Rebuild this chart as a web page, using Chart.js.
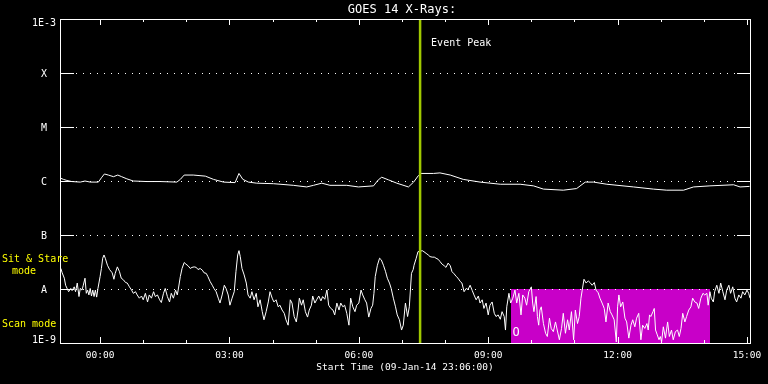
<!DOCTYPE html>
<html><head><meta charset="utf-8">
<script src="https://cdn.jsdelivr.net/npm/chart.js@4/dist/chart.umd.min.js"></script>
<style>html,body{margin:0;padding:0;background:#000;overflow:hidden}#wrap{width:768px;height:384px;position:relative}</style>
</head><body><div id="wrap"><canvas id="c" width="768" height="384"></canvas></div>
<script>
const chartTitle = 'GOES 14 X-Rays:';
const xAxisTitle = 'Start Time (09-Jan-14 23:06:00)';
const hourTicks = [0,1,2,3,4,5,6,7,8,9,10,11,12,13,14,15];
const hourTickLabels = ['00:00','','','03:00','','','06:00','','','09:00','','','12:00','','','15:00'];
const fluxTicks = [1e-9,1e-8,1e-7,1e-6,1e-5,1e-4,1e-3];
const fluxTickLabels = ['1E-9','A','B','C','M','X','1E-3'];
const eventPeakHour = 7.42;
const eventPeakLabel = 'Event Peak';
const scanModeInterval = [9.53, 14.14];
const scanModeFlux = [1e-9, 1e-8];
const modeLabels = ['Sit & Stare', 'mode', 'Scan mode'];

// GOES long channel (1-8 A), hours from 00:00, log10 flux
const longTime = [-0.91,-0.85,-0.77,-0.66,-0.46,-0.35,-0.23,-0.04,0.04,0.10,0.19,0.31,0.41,0.50,0.62,0.77,1.08,1.39,1.78,1.86,1.95,2.16,2.44,2.63,2.86,3.13,3.22,3.31,3.44,3.63,4.02,4.48,4.79,4.95,5.14,5.33,5.72,5.99,6.34,6.45,6.53,6.69,6.88,7.15,7.27,7.38,7.44,7.73,7.88,8.12,8.42,8.81,9.28,9.74,10.05,10.28,10.74,11.05,11.25,11.44,11.75,12.37,12.83,13.14,13.53,13.76,14.14,14.69,14.84,15.06];
const longLogFlux = [-5.95,-5.97,-5.99,-6.01,-6.02,-6.00,-6.02,-6.02,-5.93,-5.87,-5.89,-5.92,-5.89,-5.92,-5.96,-6.00,-6.01,-6.01,-6.02,-5.97,-5.89,-5.89,-5.91,-5.97,-6.02,-6.03,-5.86,-5.97,-6.02,-6.04,-6.05,-6.08,-6.11,-6.08,-6.04,-6.08,-6.08,-6.11,-6.09,-5.98,-5.93,-5.98,-6.04,-6.11,-6.02,-5.90,-5.86,-5.86,-5.85,-5.89,-5.97,-6.02,-6.06,-6.06,-6.09,-6.15,-6.17,-6.14,-6.02,-6.02,-6.06,-6.11,-6.15,-6.17,-6.17,-6.11,-6.09,-6.07,-6.11,-6.10];

// GOES short channel (0.5-4 A), hours from 00:00, log10 flux
const shortTime = [-0.91,-0.88,-0.83,-0.80,-0.76,-0.73,-0.68,-0.65,-0.60,-0.57,-0.53,-0.49,-0.46,-0.42,-0.39,-0.35,-0.32,-0.29,-0.26,-0.23,-0.20,-0.17,-0.14,-0.11,-0.08,-0.05,
0.00,0.03,0.06,0.09,0.12,0.17,0.22,0.28,0.32,0.35,0.40,0.45,0.49,0.54,0.59,0.63,0.68,0.73,0.77,0.82,0.86,0.91,0.96,
1.00,1.05,1.10,1.14,1.19,1.24,1.28,1.33,1.38,1.42,1.47,1.51,1.56,1.61,1.65,1.70,1.75,1.79,1.81,1.86,1.90,1.95,1.99,
2.04,2.09,2.13,2.18,2.23,2.27,2.32,2.37,2.41,2.46,2.50,2.55,2.60,2.64,2.69,2.74,2.78,2.83,2.88,2.92,2.97,
3.01,3.06,3.11,3.15,3.19,3.22,3.25,3.29,3.34,3.39,3.43,3.48,3.52,3.57,3.62,3.66,3.71,3.76,3.80,3.85,3.90,3.94,3.99,
4.03,4.08,4.13,4.17,4.22,4.27,4.31,4.36,4.41,4.45,4.50,4.55,4.59,4.62,4.67,4.71,4.76,4.81,4.85,4.90,4.93,4.98,
5.02,5.07,5.12,5.16,5.21,5.26,5.30,5.35,5.40,5.44,5.49,5.54,5.58,5.63,5.67,5.72,5.77,5.81,5.86,5.91,5.95,
6.00,6.05,6.09,6.14,6.18,6.23,6.28,6.32,6.35,6.38,6.43,6.48,6.52,6.57,6.62,6.66,6.71,6.75,6.80,6.85,6.89,6.94,6.99,
7.03,7.08,7.13,7.17,7.22,7.26,7.28,7.33,7.37,7.47,7.51,7.56,7.61,7.65,7.70,7.75,7.79,7.84,7.88,7.93,7.98,
8.02,8.07,8.12,8.16,8.21,8.26,8.30,8.35,8.39,8.44,8.49,8.53,8.58,8.63,8.67,8.72,8.77,8.81,8.86,8.90,8.95,
9.00,9.04,9.09,9.14,9.18,9.23,9.28,9.32,9.37,9.40,9.43,9.48,9.52,9.57,9.62,9.66,9.71,9.76,9.80,9.85,9.89,9.94,
10.00,10.03,10.06,10.11,10.14,10.17,10.20,10.23,10.28,10.33,10.37,10.42,10.46,10.51,10.56,10.60,10.65,10.70,10.74,10.79,10.84,10.88,10.93,10.98,
11.02,11.07,11.11,11.15,11.18,11.22,11.27,11.32,11.36,11.41,11.46,11.50,11.55,11.59,11.64,11.69,11.73,11.78,11.83,11.87,11.92,11.97,
12.00,12.03,12.07,12.12,12.17,12.21,12.26,12.31,12.35,12.40,12.44,12.49,12.54,12.58,12.63,12.68,12.71,12.74,12.77,12.82,12.85,12.88,12.92,12.96,12.99,
13.02,13.06,13.11,13.16,13.20,13.25,13.29,13.34,13.39,13.43,13.47,13.51,13.56,13.60,13.65,13.70,13.74,13.79,13.84,13.88,13.93,13.98,
14.02,14.07,14.10,14.14,14.17,14.22,14.25,14.30,14.35,14.39,14.44,14.49,14.53,14.58,14.62,14.67,14.72,14.76,14.81,14.86,14.90,14.95,
15.00,15.04,15.07];
const shortLogFlux = [-7.62,-7.70,-7.80,-7.93,-8.00,-8.05,-7.99,-8.03,-7.96,-8.05,-7.89,-8.14,-7.99,-8.02,-7.93,-7.80,-8.08,-8.02,-8.11,-7.99,-8.13,-8.02,-8.14,-8.02,-8.15,-7.99,
-7.77,-7.62,-7.43,-7.37,-7.43,-7.56,-7.64,-7.70,-7.82,-7.71,-7.59,-7.68,-7.80,-7.83,-7.88,-7.89,-7.96,-8.02,-8.08,-8.05,-8.11,-8.17,-8.13,
-8.20,-8.08,-8.24,-8.11,-8.17,-8.05,-8.14,-8.11,-8.20,-8.25,-8.08,-7.99,-8.14,-8.24,-8.08,-8.17,-8.02,-8.11,-8.02,-7.77,-7.62,-7.51,-7.54,
-7.57,-7.62,-7.60,-7.59,-7.60,-7.64,-7.62,-7.65,-7.70,-7.71,-7.77,-7.86,-7.93,-7.99,-8.05,-8.17,-8.26,-8.11,-7.93,-7.99,-8.11,
-8.30,-8.17,-8.05,-7.68,-7.37,-7.29,-7.40,-7.62,-7.74,-7.89,-8.11,-8.17,-8.05,-8.20,-8.08,-8.33,-8.20,-8.42,-8.57,-8.42,-8.24,-8.05,-8.17,
-8.24,-8.20,-8.33,-8.30,-8.39,-8.45,-8.57,-8.67,-8.20,-8.26,-8.51,-8.61,-8.39,-8.17,-8.30,-8.20,-8.42,-8.52,-8.39,-8.30,-8.13,-8.26,
-8.20,-8.13,-8.22,-8.14,-8.19,-8.02,-8.30,-8.36,-8.39,-8.48,-8.26,-8.39,-8.26,-8.33,-8.30,-8.45,-8.67,-8.17,-8.33,-8.42,-8.30,
-8.26,-8.02,-8.11,-8.20,-8.26,-8.52,-8.36,-8.30,-8.08,-7.77,-7.56,-7.43,-7.46,-7.56,-7.68,-7.80,-7.89,-7.99,-8.17,-8.33,-8.48,-8.57,-8.76,
-8.67,-8.26,-8.51,-8.33,-7.71,-7.64,-7.56,-7.43,-7.31,-7.29,-7.31,-7.34,-7.37,-7.40,-7.41,-7.41,-7.43,-7.45,-7.49,-7.54,-7.57,
-7.60,-7.52,-7.57,-7.68,-7.72,-7.77,-7.80,-7.86,-7.89,-8.05,-7.99,-8.01,-7.93,-8.03,-8.11,-8.20,-8.13,-8.26,-8.20,-8.36,-8.26,
-8.48,-8.30,-8.24,-8.45,-8.51,-8.48,-8.56,-8.42,-8.51,-8.76,-8.33,-8.08,-8.26,-8.17,-8.02,-8.26,-8.08,-8.48,-8.11,-8.17,-8.30,-8.05,
-7.96,-8.26,-8.42,-8.14,-8.51,-8.67,-8.39,-8.33,-8.64,-8.82,-8.88,-8.54,-8.73,-8.79,-8.61,-8.76,-8.94,-8.73,-8.45,-8.82,-8.57,-8.76,-8.42,-8.94,
-8.39,-8.64,-8.51,-8.17,-8.02,-7.82,-7.89,-7.85,-7.88,-7.93,-7.88,-8.02,-8.07,-8.17,-8.26,-8.36,-8.61,-8.26,-8.42,-8.48,-8.57,-8.98,
-8.33,-8.11,-8.33,-8.24,-8.54,-8.61,-8.91,-8.67,-8.57,-8.70,-8.54,-8.45,-8.94,-8.67,-8.73,-8.64,-8.76,-8.48,-8.51,-8.42,-8.36,-8.76,-8.85,-8.94,-8.88,
-8.98,-8.70,-8.91,-8.61,-8.88,-8.76,-8.94,-8.79,-8.76,-8.88,-8.73,-8.45,-8.61,-8.51,-8.39,-8.33,-8.17,-8.24,-8.26,-8.36,-8.17,-8.08,
-8.11,-8.08,-8.30,-8.05,-8.17,-8.24,-8.05,-7.93,-8.08,-7.89,-8.05,-8.20,-8.02,-7.93,-8.08,-7.96,-8.17,-8.24,-8.11,-8.17,-8.05,-8.11,
-8.02,-8.08,-8.17];

const longData = longTime.map((t, i) => ({x: t, y: Math.pow(10, longLogFlux[i])}));
const shortData = shortTime.map((t, i) => ({x: t, y: Math.pow(10, shortLogFlux[i])}));

const MONO = '"DejaVu Sans Mono", monospace';
const WHITE = '#ffffff';
const YELLOW = '#ffff00';
const MAGENTA = '#c800c8';
const GREEN = '#a0c800';

const decorPlugin = {
  id: 'decor',
  beforeDraw(chart) {
    const ctx = chart.ctx;
    ctx.save();
    ctx.fillStyle = '#000';
    ctx.fillRect(0, 0, chart.width, chart.height);
    ctx.restore();
  },
  beforeDatasetsDraw(chart) {
    const {ctx, chartArea: a, scales: {x, y}} = chart;
    ctx.save();
    // scan mode box
    const x0 = x.getPixelForValue(scanModeInterval[0]);
    const x1 = x.getPixelForValue(scanModeInterval[1]);
    const y0 = y.getPixelForValue(scanModeFlux[1]);
    const y1 = y.getPixelForValue(scanModeFlux[0]);
    ctx.fillStyle = MAGENTA;
    ctx.fillRect(Math.round(x0), Math.round(y0), Math.round(x1 - x0), Math.round(y1 - y0));
    // dotted grid
    ctx.strokeStyle = WHITE;
    ctx.lineWidth = 1;
    ctx.setLineDash([1, 6]);
    fluxTicks.slice(1, -1).forEach(v => {
      const py = Math.round(y.getPixelForValue(v)) + 0.5;
      ctx.beginPath();
      ctx.moveTo(a.left + 16, py);
      ctx.lineTo(a.right - 14, py);
      ctx.stroke();
    });
    ctx.restore();
  },
  afterDatasetsDraw(chart) {
    const {ctx, chartArea: a, scales: {x, y}} = chart;
    ctx.save();
    // event peak line
    const ep = x.getPixelForValue(eventPeakHour);
    ctx.strokeStyle = GREEN;
    ctx.lineWidth = 2.5;
    ctx.beginPath();
    ctx.moveTo(ep, a.top);
    ctx.lineTo(ep, a.bottom);
    ctx.stroke();
    // frame
    ctx.strokeStyle = WHITE;
    ctx.lineWidth = 1;
    ctx.strokeRect(a.left + 0.5, a.top + 0.5, a.right - a.left, a.bottom - a.top);
    // y ticks both sides
    fluxTicks.forEach(v => {
      const py = Math.round(y.getPixelForValue(v)) + 0.5;
      ctx.beginPath();
      ctx.moveTo(a.left, py); ctx.lineTo(a.left + 14, py);
      ctx.moveTo(a.right - 13, py); ctx.lineTo(a.right, py);
      ctx.stroke();
    });
    // x ticks top and bottom
    hourTicks.forEach((h, i) => {
      const px = Math.round(x.getPixelForValue(h)) + 0.5;
      const len = hourTickLabels[i] ? 6 : 3;
      ctx.beginPath();
      ctx.moveTo(px, a.bottom); ctx.lineTo(px, a.bottom - len);
      ctx.moveTo(px, a.top); ctx.lineTo(px, a.top + len);
      ctx.stroke();
    });
    // text
    ctx.fillStyle = WHITE;
    ctx.textBaseline = 'middle';
    ctx.textAlign = 'center';
    ctx.font = '12px ' + MONO;
    ctx.fillText(chartTitle, (a.left + a.right) / 2 - 3, 10);
    ctx.font = '9.5px ' + MONO;
    hourTicks.forEach((h, i) => {
      if (!hourTickLabels[i]) return;
      ctx.fillText(hourTickLabels[i], x.getPixelForValue(h), a.bottom + 12.5);
    });
    ctx.font = '9.5px ' + MONO;
    ctx.fillText(xAxisTitle, (a.left + a.right) / 2, a.bottom + 25);
    ctx.font = '10px ' + MONO;
    fluxTicks.forEach((v, i) => {
      let py = y.getPixelForValue(v) + 1;
      if (i === fluxTicks.length - 1) py = a.top + 4.5;
      if (i === 0) py = a.bottom - 3;
      ctx.fillText(fluxTickLabels[i], 44, py);
    });
    // event peak label
    ctx.textAlign = 'left';
    ctx.fillText(eventPeakLabel, ep + 11, a.top + 24);
    // scan marker
    ctx.font = '12px ' + MONO;
    ctx.textAlign = 'center';
    ctx.fillText('O', x.getPixelForValue(scanModeInterval[0]) + 5, a.bottom - 10);
    // mode labels
    ctx.fillStyle = YELLOW;
    ctx.font = '10px ' + MONO;
    ctx.textAlign = 'left';
    ctx.fillText(modeLabels[0], 2, 259);
    ctx.textAlign = 'center';
    ctx.fillText(modeLabels[1], 24, 271);
    ctx.textAlign = 'left';
    ctx.fillText(modeLabels[2], 2, 324);
    ctx.restore();
  }
};

new Chart(document.getElementById('c'), {
  type: 'line',
  data: {
    datasets: [
      {label: 'Long', data: longData, borderColor: WHITE, borderWidth: 1, pointRadius: 0, tension: 0},
      {label: 'Short', data: shortData, borderColor: WHITE, borderWidth: 1, pointRadius: 0, tension: 0}
    ]
  },
  options: {
    responsive: false,
    animation: false,
    devicePixelRatio: 1,
    parsing: true,
    layout: {padding: {top: 19, right: 18, left: 0, bottom: 0}},
    plugins: {legend: {display: false}, tooltip: {enabled: false}, title: {display: false}},
    scales: {
      x: {type: 'linear', min: -0.93, max: 15.07,
          grid: {display: false, drawTicks: false}, border: {display: false},
          ticks: {display: false}, afterFit: s => { s.height = 41; }},
      y: {type: 'logarithmic', min: 1e-9, max: 1e-3,
          grid: {display: false, drawTicks: false}, border: {display: false},
          ticks: {display: false}, afterFit: s => { s.width = 60; }}
    }
  },
  plugins: [decorPlugin]
});
</script></body></html>
